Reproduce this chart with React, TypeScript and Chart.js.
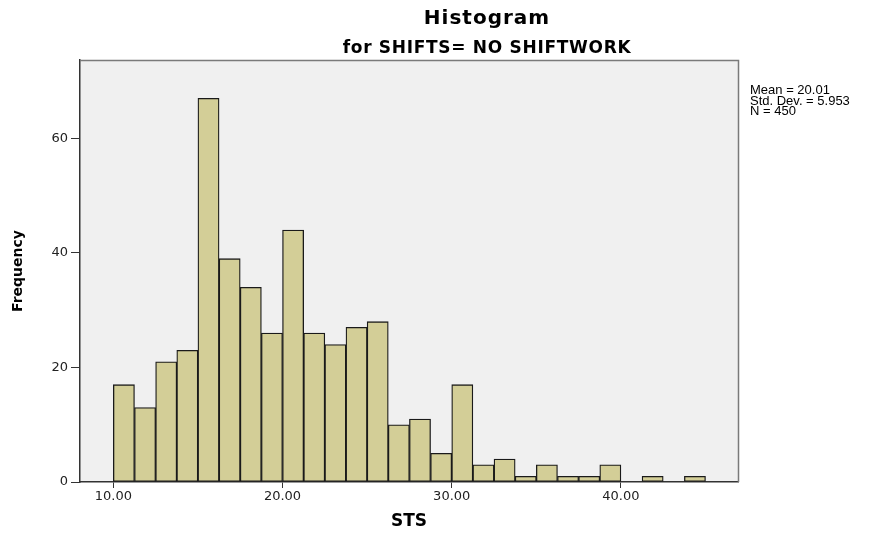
import React, { useEffect, useRef } from 'react';
import { Chart, registerables } from 'chart.js';

Chart.register(...registerables);

// Bin centres of the histogram (bin width 1.25, first bin 10.00-11.25)
const BIN_CENTERS = [
  10.625, 11.875, 13.125, 14.375, 15.625, 16.875, 18.125, 19.375,
  20.625, 21.875, 23.125, 24.375, 25.625, 26.875, 28.125, 29.375,
  30.625, 31.875, 33.125, 34.375, 35.625, 36.875, 38.125, 39.375,
  40.625, 41.875, 43.125, 44.375,
];
const FREQUENCIES = [
  17, 13, 21, 23, 67, 39, 34, 26,
  44, 26, 24, 27, 28, 10, 11, 5,
  17, 3, 4, 1, 3, 1, 1, 3,
  0, 1, 0, 1,
];
const X_TICKS = [10, 20, 30, 40];
const Y_TICKS = [0, 20, 40, 60];
const TITLE = 'Histogram';
const SUBTITLE = 'for SHIFTS= NO SHIFTWORK';
const X_TITLE = 'STS';
const Y_TITLE = 'Frequency';
const STATS = ['Mean = 20.01', 'Std. Dev. = 5.953', 'N = 450'];

const FONT = '"DejaVu Sans", Verdana, sans-serif';
const STATS_FONT = '"Liberation Sans", Arial, sans-serif';

const framePlugin = {
  id: 'frameAndTexts',
  beforeDraw(chart: any) {
    const { ctx, chartArea: a } = chart;
    ctx.save();
    ctx.fillStyle = '#f0f0f0';
    ctx.fillRect(a.left, a.top, a.right - a.left, a.bottom - a.top);
    ctx.restore();
  },
  afterDraw(chart: any) {
    const { ctx, chartArea: a } = chart;
    ctx.save();
    ctx.strokeStyle = '#7a7a7a';
    ctx.lineWidth = 1.5;
    ctx.beginPath();
    ctx.moveTo(a.left, a.top + 0.5);
    ctx.lineTo(a.right + 0.5, a.top + 0.5);
    ctx.lineTo(a.right + 0.5, a.bottom);
    ctx.stroke();

    ctx.fillStyle = '#000';
    ctx.textAlign = 'center';
    ctx.textBaseline = 'alphabetic';
    try { (ctx as any).letterSpacing = '1px'; } catch (e) {}
    ctx.font = `bold 20px ${FONT}`;
    ctx.fillText(TITLE, 487, 24);
    try { (ctx as any).letterSpacing = '0.7px'; } catch (e) {}
    ctx.font = `bold 17px ${FONT}`;
    ctx.fillText(SUBTITLE, 487, 53);
    try { (ctx as any).letterSpacing = '0px'; } catch (e) {}

    ctx.textAlign = 'left';
    ctx.font = `13px ${STATS_FONT}`;
    STATS.forEach((s, i) => ctx.fillText(s, 750, 94 + i * 10.5));
    ctx.restore();
  },
};

export default function App() {
  const ref = useRef<HTMLCanvasElement | null>(null);

  useEffect(() => {
    if (!ref.current) return;
    const chart = new Chart(ref.current, {
      type: 'bar',
      data: {
        datasets: [
          {
            data: BIN_CENTERS.map((x, i) => ({ x, y: FREQUENCIES[i] })),
            backgroundColor: '#d3ce97',
            borderColor: '#1a1a1a',
            borderWidth: 1.3,
            borderSkipped: false,
            barPercentage: 1,
            categoryPercentage: 1,
          },
        ],
      },
      plugins: [framePlugin],
      options: {
        animation: false,
        responsive: true,
        maintainAspectRatio: false,
        layout: { padding: { left: 0, top: 60, right: 150, bottom: 0 } },
        plugins: {
          legend: { display: false },
          tooltip: { enabled: false },
          title: { display: false },
        },
        scales: {
          x: {
            type: 'linear',
            min: 8.03,
            max: 46.92,
            offset: false,
            beginAtZero: false,
            afterBuildTicks: (s: any) => {
              s.ticks = X_TICKS.map((v) => ({ value: v }));
            },
            afterFit: (s: any) => {
              s.height = 53;
            },
            grid: {
              display: true,
              drawOnChartArea: false,
              drawTicks: true,
              tickLength: 6,
              color: '#333',
              offset: false,
            },
            border: { display: true, color: '#333', width: 1.5 },
            ticks: {
              autoSkip: false,
              maxRotation: 0,
              padding: 1,
              color: '#222',
              font: { family: FONT, size: 13 },
              callback: (v: any) => Number(v).toFixed(2),
            },
            title: {
              display: true,
              text: X_TITLE,
              color: '#000',
              font: { family: FONT, size: 17, weight: 'bold' },
              padding: { top: 0, bottom: 3 },
            },
          },
          y: {
            type: 'linear',
            min: 0,
            max: 73.7,
            afterBuildTicks: (s: any) => {
              s.ticks = Y_TICKS.map((v) => ({ value: v }));
            },
            afterFit: (s: any) => {
              s.width = 80;
            },
            grid: {
              display: true,
              drawOnChartArea: false,
              drawTicks: true,
              tickLength: 9,
              color: '#333',
            },
            border: { display: true, color: '#333', width: 1.5 },
            ticks: {
              padding: 3,
              color: '#222',
              font: { family: FONT, size: 13 },
            },
            title: {
              display: true,
              text: Y_TITLE,
              color: '#000',
              font: { family: FONT, size: 14, weight: 'bold' },
              padding: { top: 10, bottom: 0 },
            },
          },
        },
      } as any,
    });
    return () => chart.destroy();
  }, []);

  return (
    <div style={{ position: 'fixed', left: 0, top: 0, width: 888, height: 535, background: '#fff' }}>
      <canvas ref={ref} />
    </div>
  );
}
